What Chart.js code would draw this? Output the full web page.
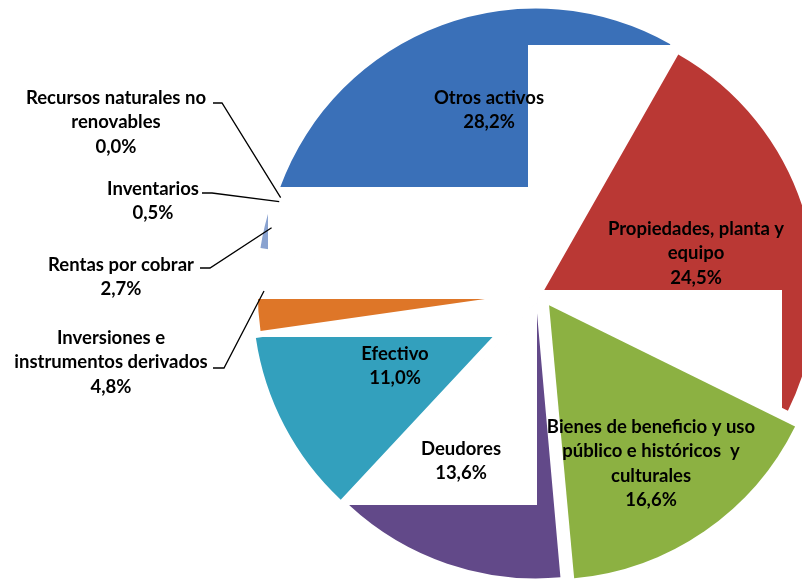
<!DOCTYPE html>
<html lang="es">
<head>
<meta charset="utf-8">
<title>Composición del activo</title>
<script src="https://cdn.jsdelivr.net/npm/chart.js@4.4.1/dist/chart.umd.min.js"></script>
<style>
  html, body { margin: 0; padding: 0; background: #fff; }
  #grafico { display: block; }
</style>
</head>
<body>
<canvas id="grafico" width="802" height="587"></canvas>
<script>
// Datos
const categorias = [
  'Otros activos',
  'Propiedades, planta y equipo',
  'Bienes de beneficio y uso público e históricos y culturales',
  'Deudores',
  'Efectivo',
  'Inversiones e instrumentos derivados',
  'Rentas por cobrar',
  'Inventarios',
  'Recursos naturales no renovables'
];
const porcentajes = [28.2, 24.5, 16.6, 13.6, 11.0, 4.8, 2.7, 0.5, 0.0];

const colores = ['#3a70b8', '#ba3834', '#8cb142', '#624989', '#33a0bd', '#de7628', '#89a2d0', '#d99694', '#c3d69b'];
const desplazamientos = [48, 16, 64, 48, 48, 24, 24, 24, 24];

// Etiquetas: líneas de texto, centro de la primera línea y, si hay, inicio de la línea guía
const etiquetas = [
  { lineas: ['Otros activos'], x: 489, y: 98 },
  { lineas: ['Propiedades, planta y', 'equipo'], x: 696, y: 229 },
  { lineas: ['Bienes de beneficio y uso', 'público e históricos  y', 'culturales'], x: 651, y: 427 },
  { lineas: ['Deudores'], x: 461, y: 449 },
  { lineas: ['Efectivo'], x: 395, y: 354 },
  { lineas: ['Inversiones e', 'instrumentos derivados'], x: 111, y: 338, guia: [213, 368, 224] },
  { lineas: ['Rentas por cobrar'], x: 121, y: 265, guia: [200, 268, 210] },
  { lineas: ['Inventarios'], x: 153, y: 189, guia: [202, 193, 212] },
  { lineas: ['Recursos naturales no', 'renovables'], x: 116, y: 98, guia: [213, 103, 222] }
];

// Zonas blancas que tapan parte de cada porción (como en la imagen original)
const tapas = [
  [[528, 45, 274, 542], [0, 187, 802, 400]],
  [[0, 290, 782, 297]],
  [],
  [[0, 0, 537, 505]],
  [[0, 0, 802, 337]],
  [[0, 0, 802, 299]],
  [[268, 0, 534, 587]],
  [[0, 0, 802, 587]],
  []
];

const interlineado = 24.5;

function formato(v) {
  return v.toFixed(1).replace('.', ',') + '%';
}

const pluginEtiquetas = {
  id: 'etiquetas',
  afterDatasetsDraw(chart) {
    const ctx = chart.ctx;
    const arcos = chart.getDatasetMeta(0).data;

    // tapar zonas en blanco, solo dentro de cada porción
    arcos.forEach((arco, i) => {
      if (!tapas[i].length) return;
      ctx.save();
      ctx.beginPath();
      tapas[i].forEach(r => ctx.rect(r[0], r[1], r[2], r[3]));
      ctx.clip();
      const blanco = Object.create(arco);
      blanco.options = Object.assign({}, arco.options, {
        backgroundColor: '#ffffff', borderColor: '#ffffff', borderWidth: 2
      });
      blanco.draw(ctx);
      ctx.restore();
    });

    // líneas guía
    ctx.save();
    ctx.strokeStyle = '#000';
    ctx.lineWidth = 1.3;
    arcos.forEach((arco, i) => {
      const g = etiquetas[i].guia;
      if (!g) return;
      const medio = (arco.startAngle + arco.endAngle) / 2;
      const d = desplazamientos[i] / 4 + arco.outerRadius - 2;
      ctx.beginPath();
      ctx.moveTo(g[0], g[1]);
      ctx.lineTo(g[2], g[1]);
      ctx.lineTo(arco.x + Math.cos(medio) * d, arco.y + Math.sin(medio) * d);
      ctx.stroke();
    });
    ctx.restore();

    // textos
    ctx.save();
    ctx.fillStyle = '#000';
    ctx.font = 'bold 18.5px Lato';
    ctx.textAlign = 'center';
    ctx.textBaseline = 'middle';
    etiquetas.forEach((e, i) => {
      const lineas = e.lineas.concat([formato(porcentajes[i])]);
      lineas.forEach((t, k) => ctx.fillText(t, e.x, e.y + k * interlineado));
    });
    ctx.restore();
  }
};

new Chart(document.getElementById('grafico'), {
  type: 'pie',
  data: {
    labels: categorias,
    datasets: [{
      data: porcentajes,
      backgroundColor: colores,
      borderWidth: 0,
      offset: desplazamientos,
      clip: false
    }]
  },
  options: {
    responsive: false,
    animation: false,
    radius: 272,
    rotation: -70,
    layout: { padding: { left: 278, right: 0, top: 0, bottom: 3 } },
    plugins: {
      legend: { display: false },
      tooltip: { enabled: false }
    }
  },
  plugins: [pluginEtiquetas]
});
</script>
</body>
</html>
